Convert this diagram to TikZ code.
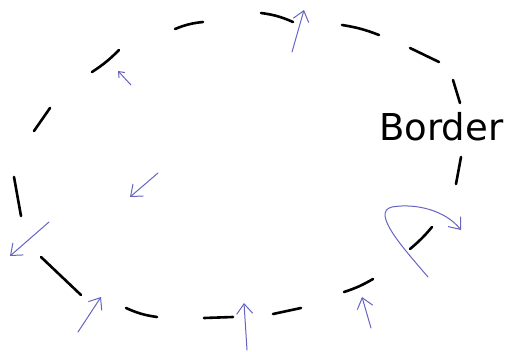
\documentclass[tikz,border=0pt]{standalone}
\usepackage{fontspec}
\newfontfamily\handfont{DejaVu Sans}
\usetikzlibrary{arrows.meta}

\definecolor{penblue}{RGB}{100,100,196}

\begin{document}
\begin{tikzpicture}[x=1pt, y=-1pt,
    wall/.style={draw=black, line width=2.6pt, line cap=round},
    flow/.style={draw=penblue, line width=1pt, line cap=round,
      -{Straight Barb[length=10pt, width=16pt, line width=1pt]}},
    smallflow/.style={flow, -{Straight Barb[length=5pt, width=8pt, line width=1pt]}}]
  \useasboundingbox (0,0) rectangle (505,352);

  % dashed border, clockwise from the top left
  \draw[wall] (175,29) to[bend left=8] (203,22);
  \draw[wall] (261,13) to[bend left=8] (293,22);
  \draw[wall] (342,25) to[bend left=6] (379,35);
  \draw[wall] (410,48) -- (439,62);
  \draw[wall] (453,80) -- (460,103);
  \draw[wall] (461,157) -- (456,184);
  \draw[wall] (432,227) to[bend left=5] (410,249);
  \draw[wall] (373,279) to[bend left=6] (344,292);
  \draw[wall] (301,308) -- (273,314);
  \draw[wall] (233,317) -- (204,318);
  \draw[wall] (157,317) to[bend left=8] (126,308);
  \draw[wall] (81,295) -- (41,257);
  \draw[wall] (21,216) -- (14,177);
  \draw[wall] (34,131) -- (50,108);
  \draw[wall] (92,72) to[bend right=6] (119,50);

  \node[font=\handfont\fontsize{37}{37}\selectfont, anchor=base west, inner sep=0pt]
    (border) at (379,141) {Border};

  % arrows
  \draw[flow] (292,52) -- (304,10);
  \draw[smallflow] (131,85) -- (118,71);
  \draw[flow] (158,173) -- (130,197);
  \draw[flow] (49,222) -- (10,256);
  \draw[flow] (78,332) -- (101,297);
  \draw[flow] (247,350) -- (244,303);
  \draw[flow] (371,328) -- (362,297);
  \draw[flow] (428,277) .. controls (405,250) and (370,212) .. (392,207)
    .. controls (415,203) and (445,210) .. (461,230);
\end{tikzpicture}
\end{document}
